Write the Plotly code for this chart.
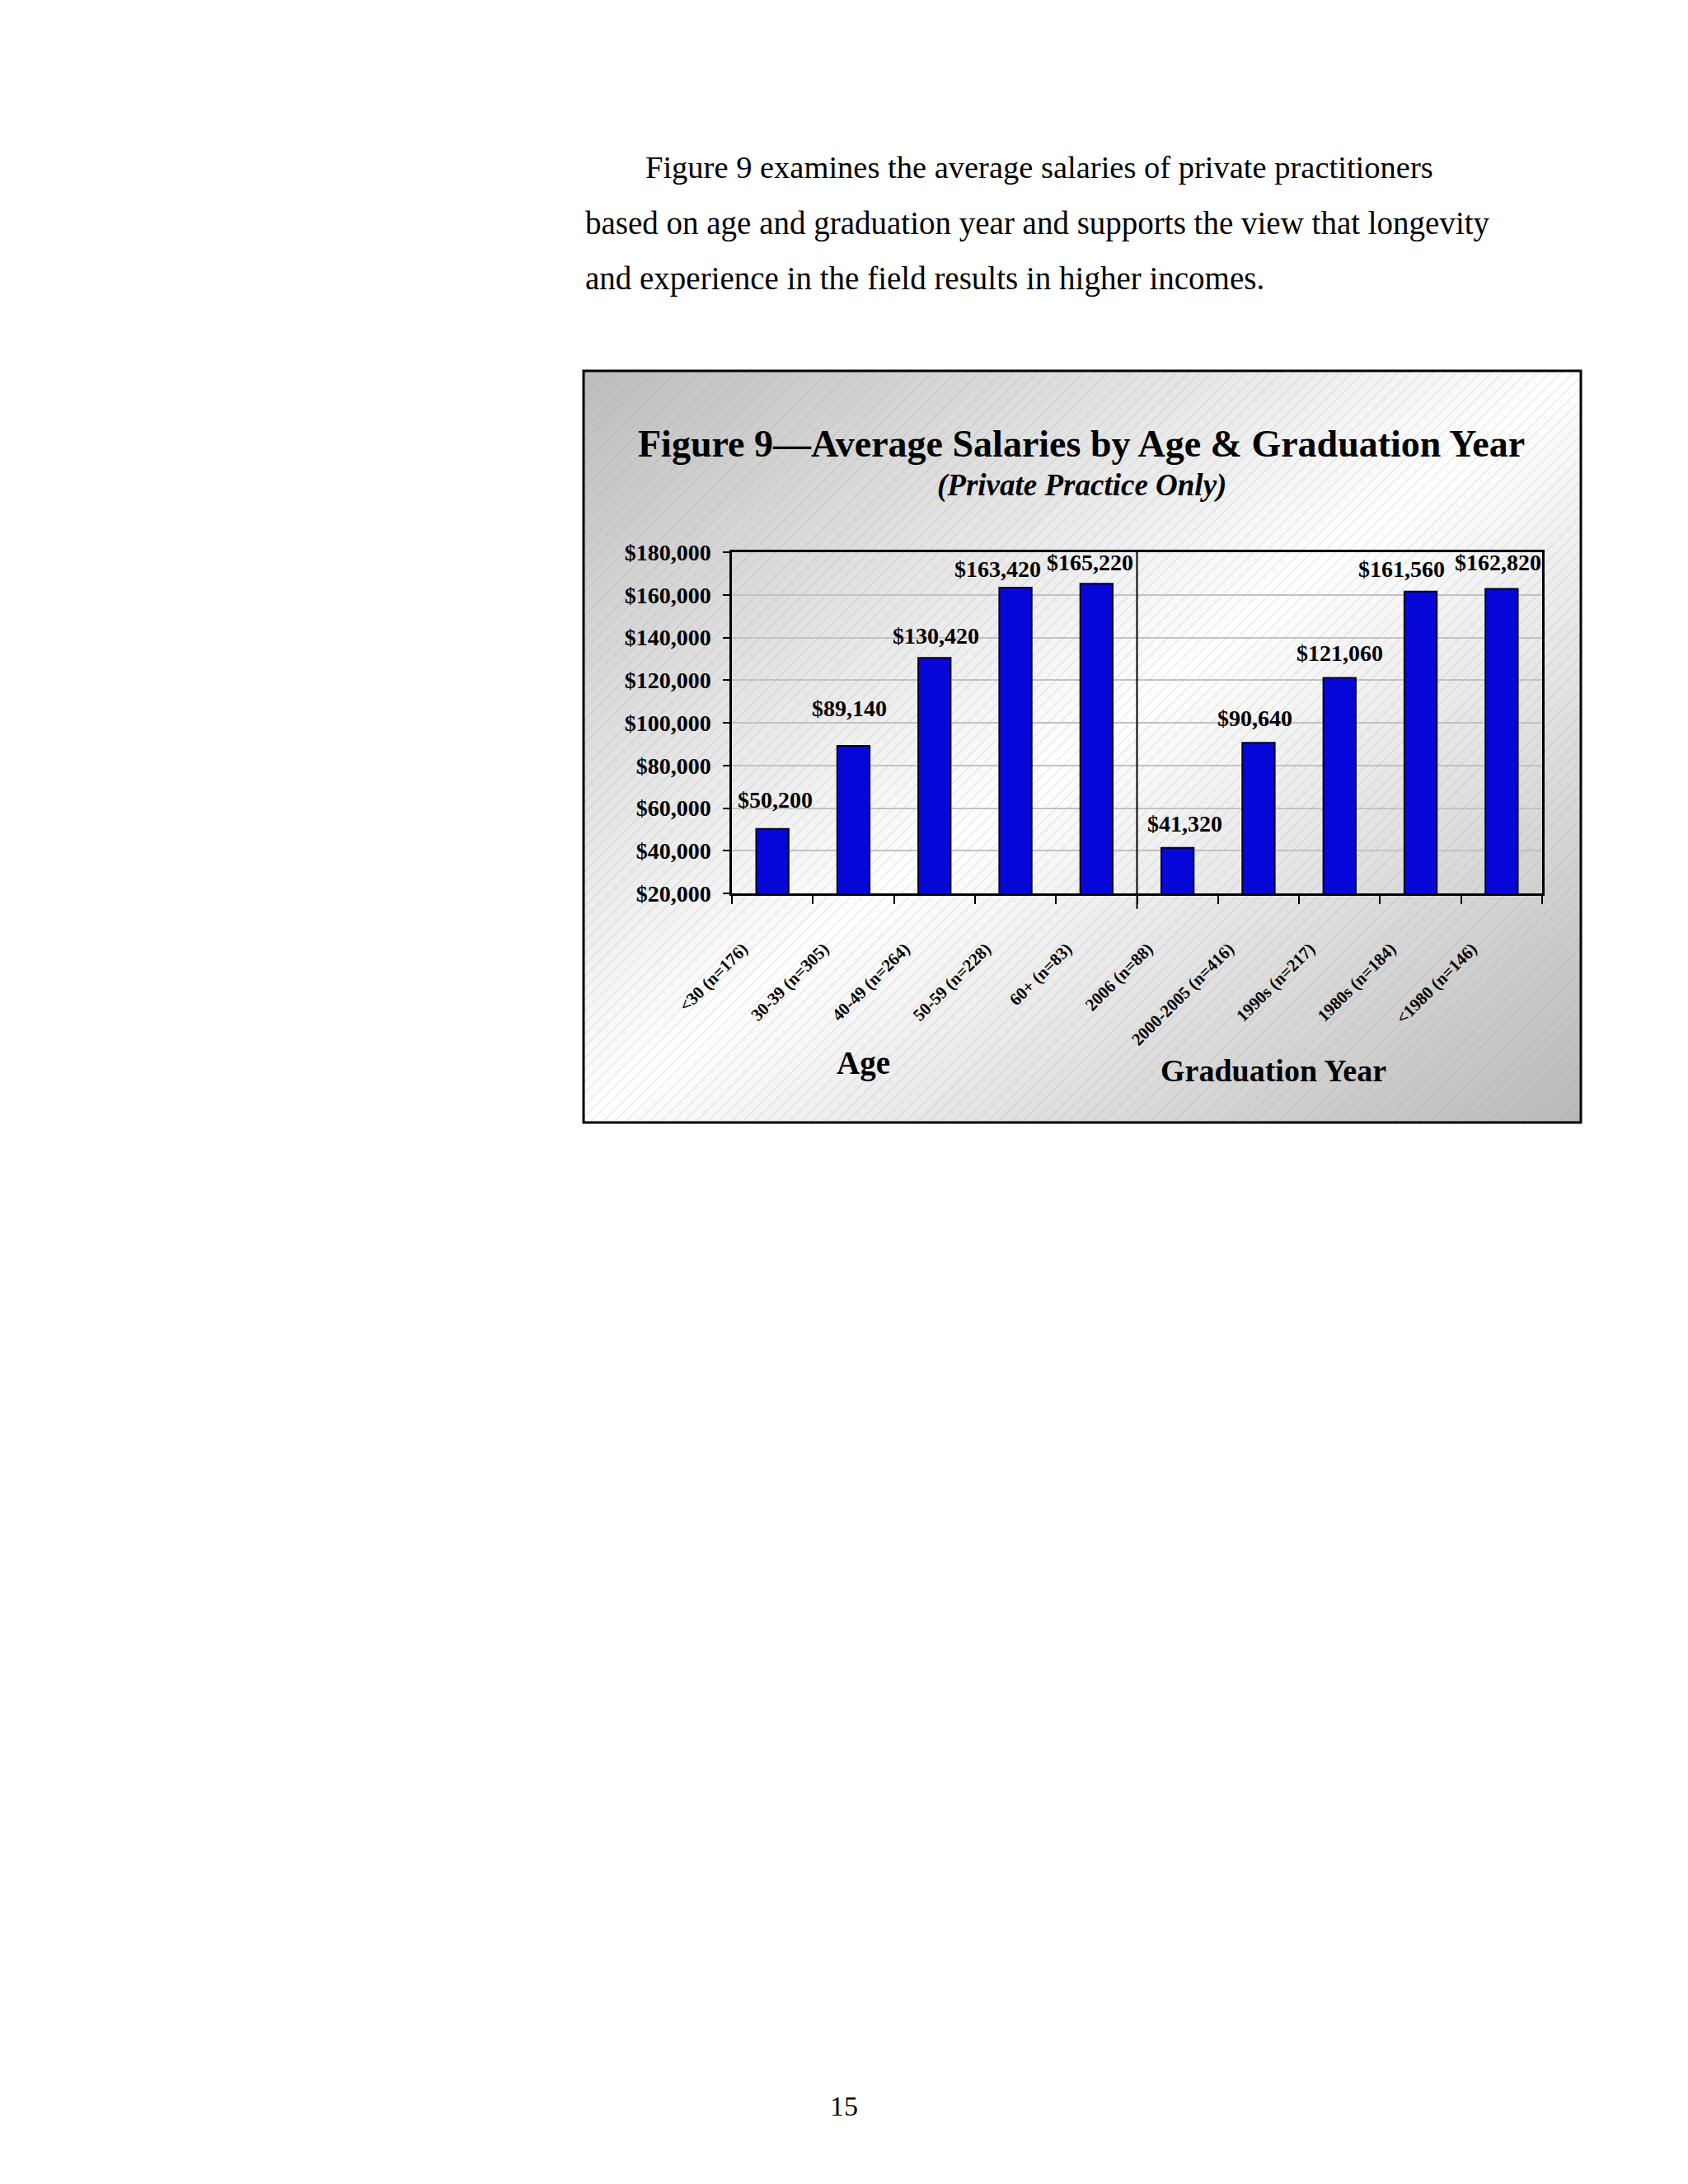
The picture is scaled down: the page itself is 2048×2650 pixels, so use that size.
import base64
import plotly.graph_objects as go

# ---------------- data ----------------
categories = ["<30 (n=176)", "30-39 (n=305)", "40-49 (n=264)", "50-59 (n=228)", "60+ (n=83)",
              "2006 (n=88)", "2000-2005 (n=416)", "1990s (n=217)", "1980s (n=184)", "<1980 (n=146)"]
salaries = [50200, 89140, 130420, 163420, 165220, 41320, 90640, 121060, 161560, 162820]
group_titles = ["Age", "Graduation Year"]
y_ticks = [20000, 40000, 60000, 80000, 100000, 120000, 140000, 160000, 180000]

title_text = "Figure 9\u2014Average Salaries by Age & Graduation Year"
subtitle_text = "(Private Practice Only)"
paragraph_lines = [
    "Figure 9 examines the average salaries of private practitioners",
    "based on age and graduation year and supports the view that longevity",
    "and experience in the field results in higher incomes.",
]
page_number = "15"

# label nudges (pixels) – styling only
label_dx = [3, -5, 2, -22, -8, 9, -4, 0, -23, -4]
label_dy = [18, 28, 9, 5, 8, 12, 12, 13, 10, 14]

# ---------------- geometry ----------------
W, H = 2048, 2650
PL, PR, PT, PB = 880, 1863, 662, 1076   # plot area in pixels


def px_x(px):
    return (px - PL) / (PR - PL)


def px_y(py):
    return (PB - py) / (PB - PT)


SERIF = "Liberation Serif"

# background gradient + hatch for the chart box
box_x0, box_x1, box_y0, box_y1 = 700, 1910, 442, 1354
bw, bh = box_x1 - box_x0, box_y1 - box_y0
svg = f'''<svg xmlns="http://www.w3.org/2000/svg" width="{bw}" height="{bh}" viewBox="0 0 {bw} {bh}" preserveAspectRatio="none">
<defs>
<linearGradient id="g" x1="0" y1="0" x2="1" y2="1">
<stop offset="0" stop-color="#bdbdbd"/>
<stop offset="0.5" stop-color="#ffffff"/>
<stop offset="1" stop-color="#b9b9b9"/>
</linearGradient>
<pattern id="h" patternUnits="userSpaceOnUse" width="10" height="10" patternTransform="rotate(45)">
<line x1="0" y1="0" x2="0" y2="10" stroke="#9a9a9a" stroke-opacity="0.45" stroke-width="1.2"/>
</pattern>
</defs>
<rect width="{bw}" height="{bh}" fill="url(#g)"/>
<rect width="{bw}" height="{bh}" fill="url(#h)"/>
</svg>'''
svg_uri = "data:image/svg+xml;base64," + base64.b64encode(svg.encode()).decode()

fig = go.Figure()
fig.add_trace(go.Bar(
    x=categories, y=salaries,
    marker=dict(color="#0707d9", line=dict(color="#000022", width=2)),
    width=0.4, hoverinfo="skip",
))

annotations = []
for i, (c, v) in enumerate(zip(categories, salaries)):
    annotations.append(dict(
        x=c, y=v, xref="x", yref="y", text=f"${v:,}", showarrow=False,
        xanchor="center", yanchor="bottom", xshift=label_dx[i], yshift=label_dy[i],
        font=dict(family=SERIF, size=28, color="black", weight="bold"),
    ))

# titles
annotations.append(dict(x=px_x(1304), y=px_y(530), xref="paper", yref="paper", text=title_text,
                        showarrow=False, xanchor="center", yanchor="middle",
                        font=dict(family=SERIF, size=46, color="black", weight="bold")))
annotations.append(dict(x=px_x(1304), y=px_y(581), xref="paper", yref="paper", text=f"<i>{subtitle_text}</i>",
                        showarrow=False, xanchor="center", yanchor="middle",
                        font=dict(family=SERIF, size=37, color="black", weight="bold")))
# group axis titles
annotations.append(dict(x=px_x(1039), y=px_y(1282), xref="paper", yref="paper", text=group_titles[0],
                        showarrow=False, xanchor="center", yanchor="middle",
                        font=dict(family=SERIF, size=39, color="black", weight="bold")))
annotations.append(dict(x=px_x(1537), y=px_y(1291), xref="paper", yref="paper", text=group_titles[1],
                        showarrow=False, xanchor="center", yanchor="middle",
                        font=dict(family=SERIF, size=38, color="black", weight="bold")))
# paragraph text
para_sizes = [38.5, 39, 39]
for (sx, sy), line, fs in zip([(773, 195), (700, 263), (700, 330)], paragraph_lines, para_sizes):
    annotations.append(dict(x=px_x(sx), y=px_y(sy), xref="paper", yref="paper", text=line,
                            showarrow=False, xanchor="left", yanchor="middle",
                            font=dict(family=SERIF, size=fs, color="black")))
annotations.append(dict(x=px_x(1016), y=px_y(2547), xref="paper", yref="paper", text=page_number,
                        showarrow=False, xanchor="center", yanchor="middle",
                        font=dict(family=SERIF, size=34, color="black")))

shapes = [
    # chart box border
    dict(type="rect", xref="paper", yref="paper", x0=px_x(box_x0), x1=px_x(box_x1),
         y0=px_y(box_y1), y1=px_y(box_y0), line=dict(color="black", width=3), layer="above"),
    # group divider
    dict(type="line", xref="x", yref="y domain", x0=4.5, x1=4.5, y0=-0.045, y1=1,
         line=dict(color="black", width=2)),
]

fig.update_layout(
    width=W, height=H,
    margin=dict(l=PL, r=W - PR, t=PT, b=H - PB, pad=0),
    paper_bgcolor="white", plot_bgcolor="rgba(0,0,0,0)",
    showlegend=False, bargap=0.6,
    annotations=annotations, shapes=shapes,
    images=[dict(source=svg_uri, xref="paper", yref="paper", x=px_x(box_x0), y=px_y(box_y0),
                 sizex=px_x(box_x1) - px_x(box_x0), sizey=px_y(box_y0) - px_y(box_y1),
                 sizing="stretch", xanchor="left", yanchor="top", layer="below")],
    font=dict(family=SERIF, color="black"),
)
fig.update_xaxes(
    type="category", range=[-0.5, 9.5], tickangle=-45,
    ticks="outside", tickson="boundaries", ticklen=10, tickwidth=2, tickcolor="black",
    showline=True, linecolor="black", linewidth=2.5, mirror=True, showgrid=False,
    tickfont=dict(family=SERIF, size=21, color="black", weight="bold"),
    ticklabelshift=-36, ticklabelstandoff=44,
)
fig.update_yaxes(
    range=[20000, 180000], tickvals=y_ticks, tickformat="$,d",
    ticks="outside", ticklen=8, tickwidth=2, tickcolor="black",
    showline=True, linecolor="black", linewidth=2.5, mirror=True,
    showgrid=True, gridcolor="#c2c2c2", gridwidth=1.5, zeroline=False,
    tickfont=dict(family=SERIF, size=28, color="black", weight="bold"),
    ticklabelstandoff=9,
)

fig.write_html("out.html")
